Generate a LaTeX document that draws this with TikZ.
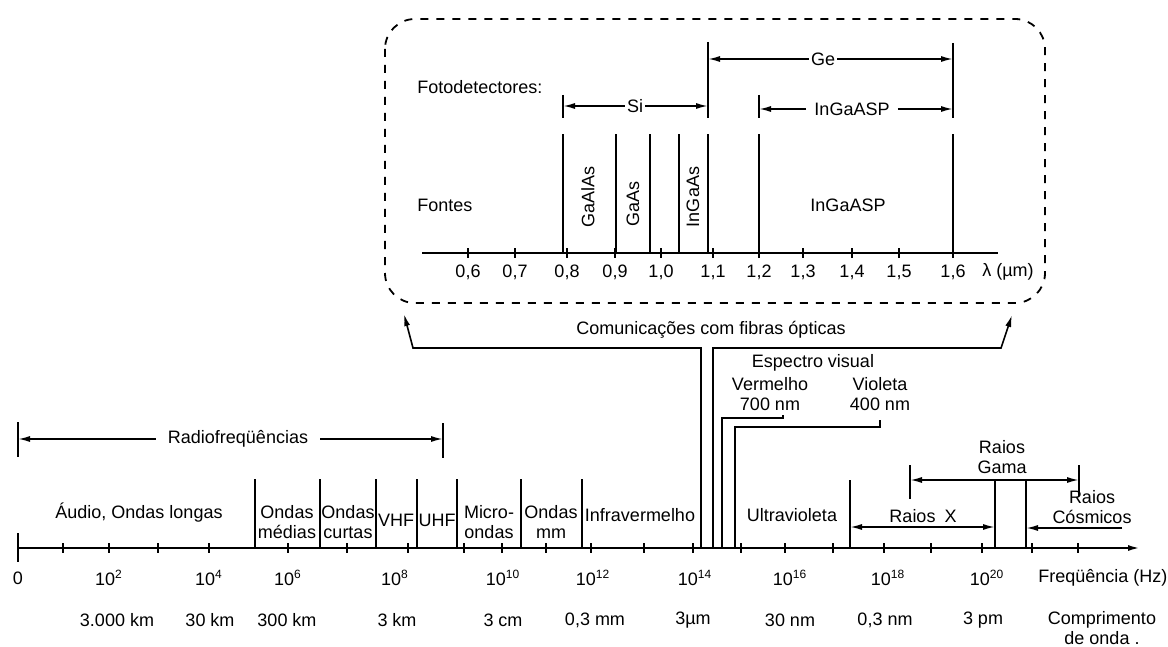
\documentclass[tikz,border=0pt]{standalone}
\usepackage{fontspec}
\setmainfont{Liberation Sans}
\usetikzlibrary{arrows.meta,positioning,calc}

\begin{document}
\begin{tikzpicture}[x=0.5pt, y=-0.5pt,
  every node/.style={font=\fontsize{9}{10}\selectfont, inner sep=1pt},
  ln/.style={line width=0.8pt},
  tip/.style={ln, -{Latex[length=6pt,width=3pt]}},
  both/.style={ln, {Latex[length=6pt,width=3pt]}-{Latex[length=6pt,width=3pt]}}]
\useasboundingbox (0,0) rectangle (1168,647);

% frequency axis
\draw[line width=1pt, -{Latex[length=6pt,width=3pt]}] (18,548) -- (1140,548);
\draw[ln] (18,533) -- (18,562);
\foreach \x in {63,109,158,209,288,347,408,464,502,546,591,644,693,741,785,833,884,931,982,1032,1078}
  \draw[ln] (\x,543) -- (\x,553);
\node (f0) at (18,578) {0};
\foreach \x/\e in {109/2,209/4,288/6,395/8,503/10,593/12,695/14,790/16,888/18,987/20}
  \node (f\e) at (\x,578) {10\textsuperscript{\e}};
\node[anchor=west] (freq) at (1036,578) {Freqüência (Hz)};
\foreach \x/\t [count=\i] in {117/{3.000 km},210/{30 km},287/{300 km},397/{3 km},503/{3 cm},595/{0,3 mm},693/{3µm},790/{30 nm},885/{0,3 nm},983/{3 pm}}
  \node (w\i) at (\x,620) {\t};
\node[align=center] (comp) at (1102,628) {Comprimento\\de onda .};

% bands
\foreach \x in {255,320,376,417,457,521,582}
  \draw[ln] (\x,548) -- (\x,479);
\node (audio) at (139,513) {Áudio, Ondas longas};
\node[align=center] (om) at (287,522) {Ondas\\médias};
\node[align=center] (oc) at (348,522) {Ondas\\curtas};
\node (vhf) at (396,520) {VHF};
\node (uhf) at (437,520) {UHF};
\node[align=center] (micro) at (489,522) {Micro-\\ondas};
\node[align=center] (omm) at (551,522) {Ondas\\mm};
\node (ir) at (640,515) {Infravermelho};
\node (uv) at (792,515) {Ultravioleta};

% radiofrequencies
\node[inner xsep=6pt] (rf) at (238,439) {Radiofreqüências};
\coordinate (rfL) at (18,439);
\coordinate (rfR) at (443,439);
\draw[ln] (18,422) -- (18,457);
\draw[ln] (443,423) -- (443,458);
\draw[tip] (rf) -- (rfL);
\draw[tip] (rf) -- (rfR);

% optical fibre communications
\node (fib) at (711,330) {Comunicações com fibras ópticas};
\coordinate (fibL) at (404,314);
\coordinate (fibR) at (1012,315);
\draw[tip] (701,548) |- (413,348) -- (fibL);
\draw[tip] (713,548) |- (1001,348) -- (fibR);

% visible spectrum
\node (vis) at (813,363) {Espectro visual};
\node[align=center] (red) at (770,394) {Vermelho\\700 nm};
\node[align=center] (vio) at (880,394) {Violeta\\400 nm};
\draw[ln] (722,548) |- (783,418) -- (783,415);
\draw[ln] (735,548) |- (880,427) -- (880,420);

% X rays, gamma rays, cosmic rays
\draw[ln] (850,548) -- (850,480);
\draw[ln] (995,548) -- (995,480);
\draw[ln] (1026,548) -- (1026,480);
\node (xr) at (923,516) {Raios\enspace X};
\draw[both] (850,527) -- (995,527);
\node[align=center] (gama) at (1002,457) {Raios\\Gama};
\draw[ln] (910,465) -- (910,499);
\draw[ln] (1079,465) -- (1079,496);
\draw[both] (910,480) -- (1079,480);
\node[align=center] (cosm) at (1092,507) {Raios\\Cósmicos};
\coordinate (cosmR) at (1122,528);
\draw[tip] (cosmR) -- (1026,528);

% detail box
\draw[line width=0.9pt, dash pattern=on 4pt off 4pt, rounded corners=15pt] (385,19) rectangle (1045,303);
\draw[line width=1pt] (422,253) -- (998,253);
\foreach \x/\t [count=\i] in {468/{0,6},515/{0,7},567/{0,8},615/{0,9},661/{1,0},713/{1,1},759/{1,2},803/{1,3},852/{1,4},899/{1,5},953/{1,6}} {
  \draw[ln] (\x,248) -- (\x,258);
  \node (l\i) at (\x,272) {\t};
}
\node (lam) at (1008,272) {λ (µm)};
\foreach \x in {563,616,650,679,708,759,953}
  \draw[ln] (\x,253) -- (\x,134);
\node[anchor=west] (fontes) at (415,205) {Fontes};
\node[rotate=90] (gaalas) at (588,197) {GaAlAs};
\node[rotate=90] (gaas) at (633,204) {GaAs};
\node[rotate=90] (ingaas) at (693,197) {InGaAs};
\node (ingaasp) at (848,205) {InGaASP};

% photodetectors
\node[anchor=west] (foto) at (415,87) {Fotodetectores:};
\draw[ln] (563,95) -- (563,118);
\draw[ln] (708,42) -- (708,118);
\draw[ln] (759,95) -- (759,118);
\draw[ln] (953,43) -- (953,118);
\node (si) at (635,106) {Si};
\draw[tip] (si) -- (563,106);
\draw[tip] (si) -- (708,106);
\node (ge) at (823,59) {Ge};
\draw[tip] (ge) -- (708,59);
\draw[tip] (ge) -- (953,59);
\node[inner xsep=4pt] (dp) at (852,109) {InGaASP};
\draw[tip] (dp) -- (759,109);
\draw[tip] (dp) -- (953,109);
\end{tikzpicture}
\end{document}
